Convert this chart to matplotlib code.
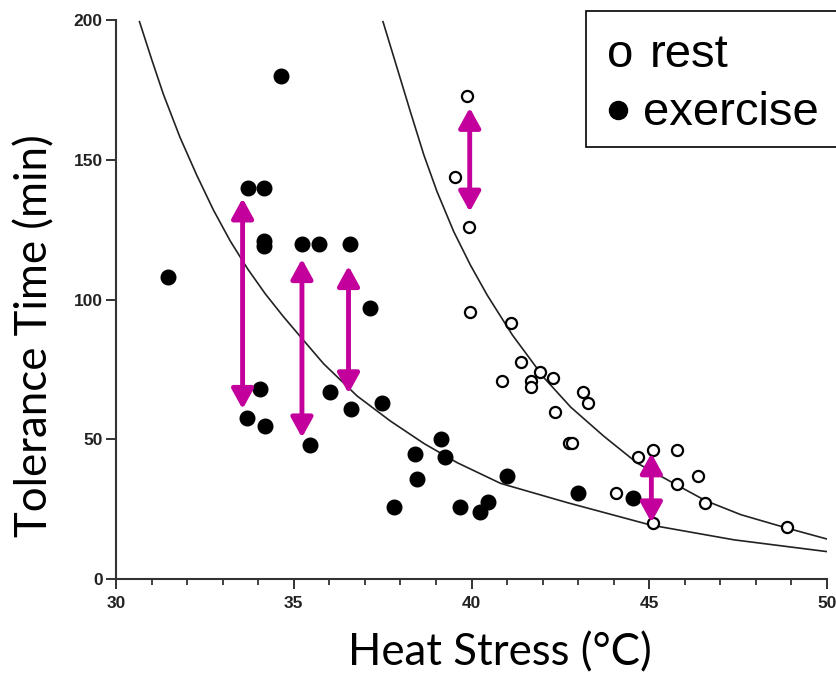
import matplotlib
matplotlib.use("Agg")
import matplotlib.pyplot as plt
from matplotlib.patches import Rectangle
from matplotlib.lines import Line2D
from matplotlib.ticker import MultipleLocator

# exercise (filled) points
ex_x = [31.46, 34.65, 33.72, 34.17, 34.17, 34.17, 35.23, 35.70, 36.57, 37.14,
        34.06, 33.69, 34.20, 35.45, 36.03, 36.62, 37.49, 37.83, 38.40, 38.47,
        39.13, 39.25, 39.68, 40.24, 40.47, 41.00, 43.00, 44.53]
ex_y = [108, 180, 140, 140, 119, 121, 120, 120, 120, 97,
        68, 57.6, 54.7, 48, 67, 61, 63, 25.8, 44.7, 35.8,
        50, 43.6, 25.8, 24, 27.6, 36.8, 30.7, 29]

# rest (open) points
rest_x = [39.86, 39.53, 39.94, 39.97, 41.10, 41.40, 40.85, 41.94, 41.66, 41.66,
          42.30, 43.15, 43.27, 42.34, 42.73, 42.84, 44.67, 45.10, 45.77, 44.06,
          45.77, 46.37, 46.57, 45.10, 48.87]
rest_y = [172.8, 143.9, 126, 95.6, 91.5, 77.6, 70.8, 74, 70.8, 68.7,
          72, 67, 63, 59.8, 48.7, 48.7, 43.8, 46, 46, 30.9,
          34, 36.8, 27.2, 20, 18.6]

# fitted curves
low_x = [30.66, 31.0, 31.33, 31.8, 32.27, 32.74, 33.21, 33.7, 34.2, 34.7,
         35.2, 35.84, 36.78, 37.72, 38.66, 39.6, 40.82, 42.7, 45.04, 47.39, 50.0]
low_y = [199.4, 186, 173.5, 158, 144.5, 132, 121, 111, 102, 94,
         86.5, 77, 65.5, 56.5, 48.5, 41.6, 34.2, 27.3, 19.3, 14.0, 9.8]
up_x = [37.51, 37.91, 38.28, 38.66, 39.03, 39.50, 39.97, 40.44, 41.15, 42.04,
        42.79, 43.73, 44.67, 45.75, 46.59, 47.58, 48.85, 50.0]
up_y = [199.4, 182.7, 167.2, 151.7, 138.6, 124.3, 112.3, 101.6, 87.3, 72.0,
        61.5, 51.0, 41.4, 33.8, 28.0, 23.0, 18.3, 14.3]

# magenta double arrows
arr_x = [33.56, 35.23, 36.54, 39.95, 45.06]
arr_top = [136.2, 114.5, 112.0, 168.6, 45.0]
arr_bot = [60.8, 50.6, 66.4, 131.4, 20.2]

fig = plt.figure(figsize=(8.36, 6.76), dpi=100)
ax = fig.add_axes([0.1388, 0.1435, 0.8504, 0.8269])

ax.plot(low_x, low_y, color='#222222', lw=1.2, zorder=2)
ax.plot(up_x, up_y, color='#222222', lw=1.2, zorder=2)
ax.plot(ex_x, ex_y, 'o', color='black', ms=10.5, zorder=3)
ax.plot(rest_x, rest_y, 'o', mfc='white', mec='black', ms=8, mew=1.6, zorder=3)

for x, t, b in zip(arr_x, arr_top, arr_bot):
    ax.annotate('', xy=(x, t), xytext=(x, b),
                arrowprops=dict(arrowstyle='<|-|>,head_length=0.4,head_width=0.22',
                                color='#C4009C', lw=3.5, shrinkA=0, shrinkB=0,
                                mutation_scale=30),
                zorder=4)

ax.set_xlim(30, 50)
ax.set_ylim(0, 200)
ax.xaxis.set_major_locator(MultipleLocator(5))
ax.xaxis.set_minor_locator(MultipleLocator(1))
ax.yaxis.set_major_locator(MultipleLocator(50))
for s in ['top', 'right']:
    ax.spines[s].set_visible(False)
for s in ['left', 'bottom']:
    ax.spines[s].set_linewidth(1.5)
    ax.spines[s].set_color('#333333')
ax.tick_params(axis='both', which='major', length=7.5, width=1.4, color='#333333')
ax.tick_params(axis='x', which='minor', length=4.5, width=1.3, color='#333333')
ax.tick_params(axis='x', pad=5)
ax.tick_params(axis='y', pad=2)
for lab in ax.get_xticklabels() + ax.get_yticklabels():
    lab.set_fontfamily('Liberation Sans')
    lab.set_fontweight('bold')
    lab.set_fontsize(12.5)
    lab.set_color('#222222')

fig.text(0.0562, 0.503, 'Tolerance Time (min)', rotation=90, rotation_mode='anchor',
         ha='center', va='baseline', fontsize=31.5, family='Lato')
fig.text(0.598, 0.0163, 'Heat Stress (°C)', ha='center', va='baseline',
         fontsize=31.5, family='Lato')

# legend box
fig.add_artist(Rectangle((0.701, 0.7825), 0.32, 0.2012, transform=fig.transFigure,
                         facecolor='white', edgecolor='black', lw=1.2, clip_on=False))
fig.text(0.726, 0.901, 'o', fontsize=34, family='Liberation Sans', va='baseline')
fig.text(0.7775, 0.901, 'rest', fontsize=34, family='Liberation Sans', va='baseline')
fig.add_artist(Line2D([0.7387], [0.837], marker='o', ms=13, color='black',
                      transform=fig.transFigure))
fig.text(0.769, 0.815, 'exercise', fontsize=34, family='Liberation Sans', va='baseline')

plt.savefig('out.png', dpi=100)
